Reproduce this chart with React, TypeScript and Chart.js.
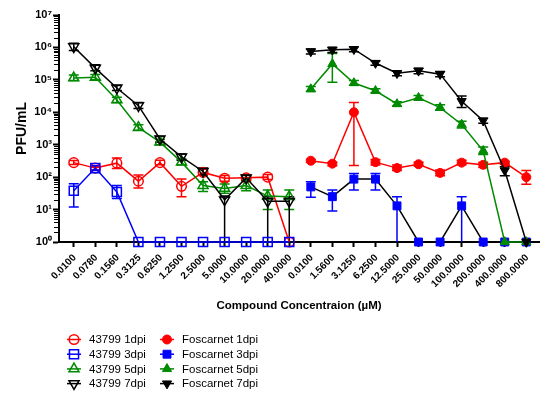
import React, { useEffect, useRef } from 'react';
import { Chart, registerables } from 'chart.js';

Chart.register(...registerables);

// ---------- DATA ----------
const categories = [
  '0.0100', '0.0780', '0.1560', '0.3125', '0.6250', '1.2500', '2.5000', '5.0000', '10.0000', '20.0000', '40.0000',
  '0.0100', '1.5600', '3.1250', '6.2500', '12.5000', '25.0000', '50.0000', '100.0000', '200.0000', '400.0000', '800.0000',
];
const yExponents = [0, 1, 2, 3, 4, 5, 6, 7];

const cmpd1dpi = [280, 190, 270, 75, 280, 52, 140, 92, 95, 100, 1];
const cmpd1dpiErr = [[245, 325], [170, 215], [185, 390], [46, 117], [240, 330], [25, 88], [115, 175], [75, 112], [80, 115], [85, 120], null];
const cmpd3dpi = [38, 190, 35, 1, 1, 1, 1, 1, 1, 1, 1];
const cmpd3dpiErr = [[12, 63], [160, 225], [22, 55], null, null, null, null, null, null, null, null];
const cmpd5dpi = [115000, 120000, 24000, 3400, 1200, 290, 55, 45, 55, 26, 25];
const cmpd5dpiErr = [[95000, 140000], [100000, 145000], [20000, 29000], [2800, 4100], [1000, 1450], [240, 360], [36, 72], [32, 62], [38, 75], [10, 40], [10, 40]];
const cmpd7dpi = [1050000, 230000, 56000, 16000, 1500, 420, 150, 20, 95, 18, 18];
const cmpd7dpiErr = [[800000, 1350000], [190000, 290000], [47000, 67000], [13000, 20000], [1200, 1800], [330, 520], [120, 190], [1, 26], [80, 112], [1, 25], [1, 25]];

const fos1dpi = [320, 260, 10000, 290, 190, 250, 135, 280, 240, 280, 100];
const fos1dpiErr = [[290, 350], [225, 290], [230, 20000], [235, 350], [160, 235], [220, 290], [110, 165], [240, 330], [200, 290], [250, 310], [60, 160]];
const fos3dpi = [50, 25, 87, 87, 13, 1, 1, 13, 1, 1, 1];
const fos3dpiErr = [[24, 72], [9, 40], [40, 130], [40, 130], [1, 25], null, null, [1, 25], null, null, null];
const fos5dpi = [52000, 310000, 80000, 46000, 18000, 28000, 14000, 4200, 650, 1, 1];
const fos5dpiErr = [[44000, 62000], [85000, 650000], [68000, 95000], [40000, 53000], [15500, 21000], [24000, 33000], [11500, 17000], [3300, 5300], [500, 850], null, null];
const fos7dpi = [750000, 850000, 880000, 330000, 160000, 190000, 150000, 22000, 5500, 160, 1];
const fos7dpiErr = [[630000, 900000], [700000, 1000000], [730000, 1050000], [280000, 390000], [135000, 190000], [155000, 230000], [125000, 180000], [14000, 32000], [4600, 6600], [110, 210], null];

// ---------- STYLE ----------
const RED = '#ff0000';
const BLUE = '#0000ff';
const GREEN = '#008a00';
const BLACK = '#000000';
const FONT = 'Arial, "Liberation Sans", sans-serif';

type Series = {
  label: string; values: number[]; err: (number[] | null)[]; start: number;
  color: string; line: string; shape: string; rot: number; filled: boolean; order: number;
};

const seriesList: Series[] = [
  { label: '43799 1dpi', values: cmpd1dpi, err: cmpd1dpiErr, start: 0, color: RED, line: RED, shape: 'circle', rot: 0, filled: false, order: 3 },
  { label: '43799 3dpi', values: cmpd3dpi, err: cmpd3dpiErr, start: 0, color: BLUE, line: BLUE, shape: 'rect', rot: 0, filled: false, order: 2 },
  { label: '43799 5dpi', values: cmpd5dpi, err: cmpd5dpiErr, start: 0, color: GREEN, line: GREEN, shape: 'triangle', rot: 0, filled: false, order: 1 },
  { label: '43799 7dpi', values: cmpd7dpi, err: cmpd7dpiErr, start: 0, color: BLACK, line: BLACK, shape: 'triangle', rot: 180, filled: false, order: 0 },
  { label: 'Foscarnet 1dpi', values: fos1dpi, err: fos1dpiErr, start: 11, color: RED, line: RED, shape: 'circle', rot: 0, filled: true, order: 7 },
  { label: 'Foscarnet 3dpi', values: fos3dpi, err: fos3dpiErr, start: 11, color: BLUE, line: BLACK, shape: 'rect', rot: 0, filled: true, order: 6 },
  { label: 'Foscarnet 5dpi', values: fos5dpi, err: fos5dpiErr, start: 11, color: GREEN, line: GREEN, shape: 'triangle', rot: 0, filled: true, order: 5 },
  { label: 'Foscarnet 7dpi', values: fos7dpi, err: fos7dpiErr, start: 11, color: BLACK, line: BLACK, shape: 'triangle', rot: 180, filled: true, order: 4 },
];

function markerRadius(s: Series) {
  if (s.shape === 'rect') return s.filled ? 5.6 : 6.4;
  if (s.shape === 'triangle') return s.filled ? 5.3 : 5.8;
  return s.filled ? 4.5 : 4.8;
}

const SUP: Record<string, string> = { '0': '⁰', '1': '¹', '2': '²', '3': '³', '4': '⁴', '5': '⁵', '6': '⁶', '7': '⁷', '8': '⁸', '9': '⁹' };

function drawShape(ctx: CanvasRenderingContext2D, shape: string, x: number, y: number, r: number, rot: number) {
  ctx.beginPath();
  if (shape === 'circle') {
    ctx.arc(x, y, r, 0, Math.PI * 2);
  } else if (shape === 'rect') {
    const h = Math.SQRT1_2 * r;
    ctx.rect(x - h, y - h, 2 * h, 2 * h);
  } else {
    let rad = (rot * Math.PI) / 180;
    ctx.moveTo(x + Math.sin(rad) * r, y - Math.cos(rad) * r);
    rad += (2 * Math.PI) / 3;
    ctx.lineTo(x + Math.sin(rad) * r, y - Math.cos(rad) * r);
    rad += (2 * Math.PI) / 3;
    ctx.lineTo(x + Math.sin(rad) * r, y - Math.cos(rad) * r);
    ctx.closePath();
  }
}

const errorBarPlugin = {
  id: 'errorBars',
  beforeDatasetsDraw(chart: any) {
    const { ctx } = chart;
    const x = chart.scales.x;
    const y = chart.scales.y;
    ctx.save();
    ctx.lineWidth = 1.5;
    seriesList.forEach((s) => {
      ctx.strokeStyle = s.color;
      s.err.forEach((e, i) => {
        if (!e) return;
        const px = x.getPixelForValue(s.start + i);
        const lo = y.getPixelForValue(Math.max(e[0], 1));
        const hi = y.getPixelForValue(e[1]);
        ctx.beginPath();
        ctx.moveTo(px, lo);
        ctx.lineTo(px, hi);
        if (e[0] > 1) {
          ctx.moveTo(px - 5, lo);
          ctx.lineTo(px + 5, lo);
        }
        ctx.moveTo(px - 5, hi);
        ctx.lineTo(px + 5, hi);
        ctx.stroke();
      });
    });
    ctx.restore();
  },
};

const minorTickPlugin = {
  id: 'minorTicks',
  afterDraw(chart: any) {
    const { ctx } = chart;
    const y = chart.scales.y;
    ctx.save();
    ctx.strokeStyle = '#000';
    ctx.lineWidth = 1;
    y.ticks.forEach((t: any) => {
      if (t.major) return;
      const py = Math.round(y.getPixelForValue(t.value)) + 0.5;
      ctx.beginPath();
      ctx.moveTo(y.right - 1, py);
      ctx.lineTo(y.right - 5, py);
      ctx.stroke();
    });
    ctx.restore();
  },
};

const legendPlugin = {
  id: 'prismLegend',
  afterDraw(chart: any) {
    const { ctx } = chart;
    ctx.save();
    ctx.font = `11.5px ${FONT}`;
    ctx.textBaseline = 'middle';
    ctx.textAlign = 'left';
    seriesList.forEach((s, k) => {
      const col = k < 4 ? 0 : 1;
      const row = k % 4;
      const mx = col === 0 ? 74 : 167;
      const my = 339.5 + row * 14.7;
      ctx.strokeStyle = s.color;
      ctx.lineWidth = 1.5;
      ctx.beginPath();
      ctx.moveTo(mx - 7, my);
      ctx.lineTo(mx + 7, my);
      ctx.stroke();
      drawShape(ctx, s.shape, mx, my, markerRadius(s), s.rot);
      if (s.filled) {
        ctx.fillStyle = s.color;
        ctx.fill();
        ctx.lineWidth = 1;
        ctx.stroke();
      } else {
        ctx.lineWidth = 1.5;
        ctx.stroke();
      }
      ctx.fillStyle = '#000';
      ctx.fillText(s.label, mx + 15, my + 0.5);
    });
    ctx.restore();
  },
};

export default function App() {
  const ref = useRef<HTMLCanvasElement>(null);

  useEffect(() => {
    if (!ref.current) return;
    const datasets = seriesList.map((s) => ({
      label: s.label,
      data: s.values.map((v, i) => ({ x: s.start + i, y: v })),
      borderColor: s.line,
      borderWidth: 1.5,
      backgroundColor: s.color,
      pointStyle: s.shape,
      pointRotation: s.rot,
      pointRadius: markerRadius(s),
      pointHoverRadius: markerRadius(s),
      pointBackgroundColor: s.filled ? s.color : 'rgba(0,0,0,0)',
      pointBorderColor: s.color,
      pointBorderWidth: s.filled ? 1 : 1.5,
      fill: false,
      tension: 0,
      clip: false as any,
      order: s.order,
    }));

    const chart = new Chart(ref.current, {
      type: 'line',
      data: { datasets },
      options: {
        responsive: false,
        devicePixelRatio: 1,
        animation: false,
        layout: { padding: { top: 15, right: 0, bottom: 80, left: 0 } },
        plugins: { legend: { display: false }, tooltip: { enabled: false } },
        scales: {
          x: {
            type: 'linear',
            min: -0.685,
            max: 21.594,
            afterBuildTicks: (scale: any) => {
              scale.ticks = categories.map((_, i) => ({ value: i }));
            },
            afterFit: (scale: any) => {
              scale.height = 71;
            },
            ticks: {
              autoSkip: false,
              minRotation: 45,
              maxRotation: 45,
              padding: 5,
              labelOffset: 1,
              color: '#000',
              font: { family: FONT, size: 10, weight: 'bold' },
              callback: (v: any) => categories[Math.round(Number(v))] ?? '',
            },
            grid: { drawOnChartArea: false, drawTicks: true, tickLength: 5, tickWidth: 2, tickColor: '#000' },
            border: { display: true, color: '#000', width: 2 },
            title: {
              display: true,
              text: 'Compound Concentraion (µM)',
              color: '#000',
              font: { family: FONT, size: 11.5, weight: 'bold' },
              padding: { top: 0, bottom: 0 },
            },
          },
          y: {
            type: 'logarithmic',
            min: 1,
            max: 1e7,
            afterBuildTicks: (scale: any) => {
              const ticks: any[] = [];
              yExponents.forEach((e) => {
                if (e === yExponents[yExponents.length - 1]) {
                  ticks.push({ value: Math.pow(10, e), major: true });
                  return;
                }
                for (let m = 1; m <= 9; m++) {
                  ticks.push({ value: m * Math.pow(10, e), major: m === 1 });
                }
              });
              scale.ticks = ticks;
            },
            afterFit: (scale: any) => {
              scale.width = 59;
            },
            ticks: {
              autoSkip: false,
              padding: 1,
              color: '#000',
              font: { family: FONT, size: 11, weight: 'bold' },
              callback: (v: any) => {
                const lg = Math.log10(Number(v));
                const e = Math.round(lg);
                if (Math.abs(lg - e) > 1e-6) return '';
                return '10' + String(e).split('').map((c) => SUP[c]).join('');
              },
            },
            grid: {
              drawOnChartArea: false,
              drawTicks: true,
              tickLength: 6,
              tickWidth: 2,
              tickColor: (c: any) => (c.tick && c.tick.major ? '#000' : 'rgba(0,0,0,0)'),
            },
            border: { display: true, color: '#000', width: 2 },
            title: {
              display: true,
              text: 'PFU/mL',
              color: '#000',
              font: { family: FONT, size: 14, weight: 'bold' },
              padding: { top: 14, bottom: 0 },
            },
          },
        },
      },
      plugins: [errorBarPlugin, minorTickPlugin, legendPlugin],
    } as any);

    return () => chart.destroy();
  }, []);

  return (
    <div style={{ position: 'absolute', left: 0, top: 0, width: 547, height: 393, background: '#fff' }}>
      <canvas ref={ref} width={547} height={393} style={{ display: 'block', width: 547, height: 393 }} />
    </div>
  );
}
